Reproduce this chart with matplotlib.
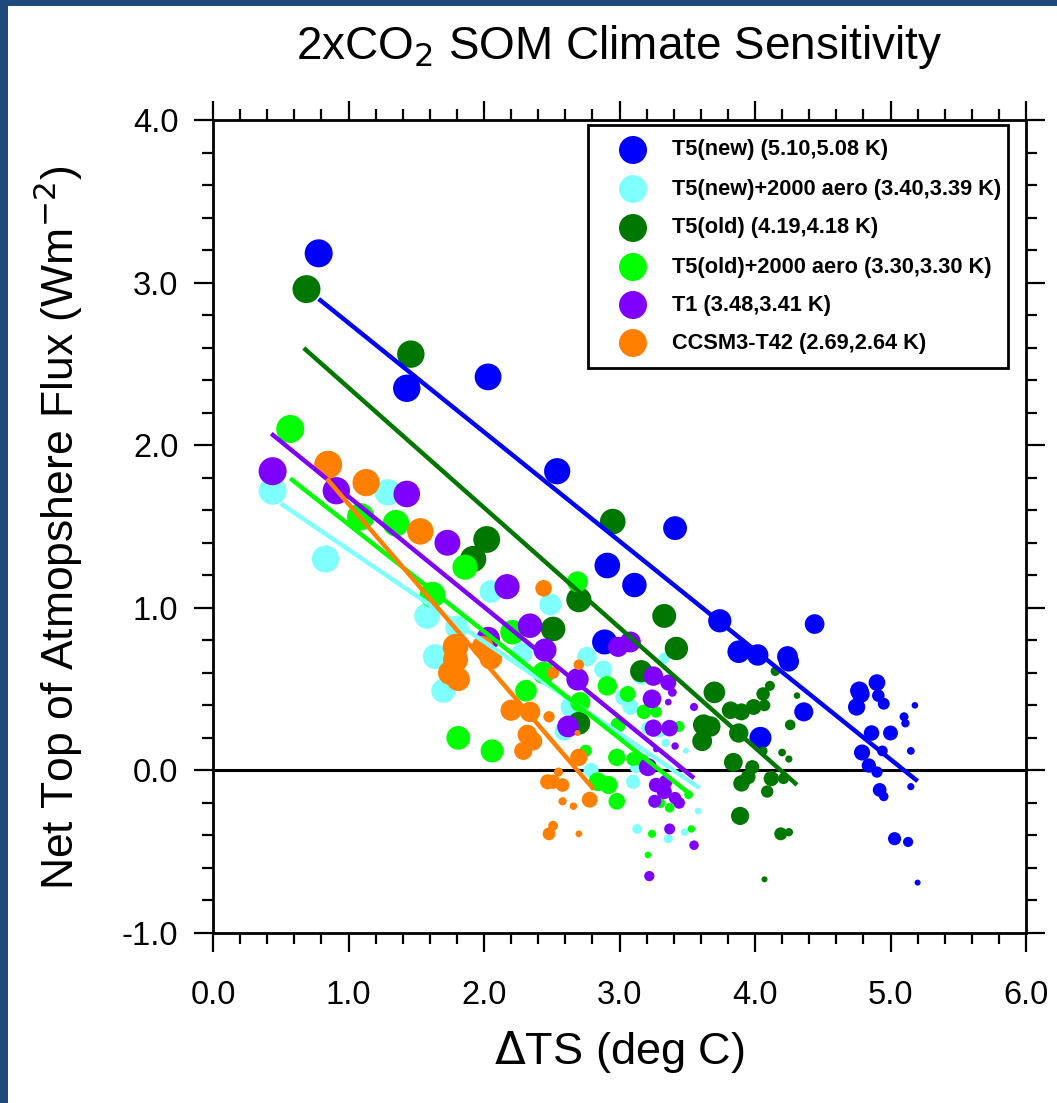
import numpy as np
import matplotlib
matplotlib.use("Agg")
import matplotlib.pyplot as plt
from matplotlib.patches import Rectangle
from matplotlib.ticker import MultipleLocator

plt.rcParams['font.family'] = ['Liberation Sans', 'DejaVu Sans']

# ---------------- data (ordered from first/largest marker to last/smallest) ----------------
series_names = ["T5(new) (5.10,5.08 K)",
                "T5(new)+2000 aero (3.40,3.39 K)",
                "T5(old) (4.19,4.18 K)",
                "T5(old)+2000 aero (3.30,3.30 K)",
                "T1 (3.48,3.41 K)",
                "CCSM3-T42 (2.69,2.64 K)"]

t5new_x = [0.78, 1.43, 2.03, 2.54, 2.91, 2.89, 3.11, 3.41, 3.74, 3.88, 4.04, 4.02, 4.24, 4.25,
           4.44, 4.36, 4.77, 4.78, 4.75, 4.90, 4.79, 4.86, 5.00, 4.84, 4.92, 5.03, 4.91, 4.95,
           4.90, 4.94, 5.13, 4.95, 5.10, 5.11, 5.15, 5.15, 5.18, 5.20]
t5new_y = [3.18, 2.35, 2.42, 1.84, 1.26, 0.79, 1.14, 1.49, 0.92, 0.73, 0.20, 0.71, 0.70, 0.67,
           0.90, 0.36, 0.49, 0.47, 0.39, 0.54, 0.11, 0.23, 0.23, 0.03, -0.12, -0.42, 0.46, 0.41,
           -0.01, 0.12, -0.44, -0.16, 0.33, 0.29, 0.12, -0.10, 0.40, -0.69]

t5newaer_x = [0.44, 0.83, 1.29, 1.58, 1.64, 1.70, 1.80, 2.05, 2.49, 2.28, 2.64, 2.76, 2.59, 2.88,
              3.16, 3.03, 3.08, 2.79, 3.10, 3.21, 3.29, 3.12, 3.33, 3.26, 3.13, 3.36, 3.34,
              3.48, 3.58, 3.49]
t5newaer_y = [1.72, 1.30, 1.71, 0.95, 0.70, 0.49, 0.88, 1.10, 1.02, 0.72, 0.39, 0.70, 0.24, 0.62,
              0.58, 0.45, 0.39, 0.00, -0.07, 0.26, 0.24, 0.02, 0.69, -0.19, -0.36, -0.42, 0.17,
              -0.38, -0.25, 0.12]

t5old_x = [0.69, 1.46, 2.02, 1.92, 2.95, 2.70, 2.51, 3.33, 3.42, 2.70, 3.16, 3.70, 3.62, 3.67,
           3.61, 3.88, 3.84, 3.89, 3.82, 3.90, 3.90, 3.99, 4.12, 3.95, 3.98, 4.06, 4.19, 4.09,
           4.07, 4.21, 4.26, 4.11, 4.15, 4.06, 4.25, 4.20, 4.25, 4.31, 4.07]
t5old_y = [2.96, 2.56, 1.42, 1.30, 1.53, 1.05, 0.87, 0.95, 0.75, 0.29, 0.61, 0.48, 0.28, 0.27,
           0.18, 0.23, 0.05, -0.28, 0.37, 0.36, -0.08, 0.39, -0.05, -0.04, 0.02, 0.47, -0.39, -0.13,
           0.40, -0.05, 0.28, 0.52, 0.61, 0.12, -0.38, 0.11, 0.07, 0.46, -0.67]

t5oldaer_x = [0.57, 1.09, 1.35, 1.62, 1.86, 2.21, 1.81, 2.06, 2.44, 2.31, 2.69, 2.71, 2.91, 2.84,
              2.92, 2.98, 2.98, 3.06, 2.99, 3.18, 3.10, 3.17, 2.75, 3.27, 3.44, 3.30, 3.37, 3.51,
              3.24, 3.53, 3.21, 3.36]
t5oldaer_y = [2.10, 1.56, 1.52, 1.08, 1.25, 0.85, 0.20, 0.12, 0.60, 0.49, 1.16, 0.42, 0.52, -0.07,
              -0.09, 0.08, -0.19, 0.47, 0.28, 0.36, 0.07, 0.06, 0.12, 0.36, 0.27, -0.20, -0.23, -0.15,
              -0.39, -0.36, -0.52, 0.57]

t1_x = [0.44, 0.91, 1.43, 1.73, 2.17, 2.34, 2.03, 2.45, 2.69, 2.62, 3.08, 2.99, 3.25, 3.24,
        3.21, 3.25, 3.37, 3.36, 3.33, 3.27, 3.34, 3.26, 3.41, 3.44, 3.37, 3.22, 3.55, 3.39,
        3.55, 3.41, 3.36, 3.27]
t1_y = [1.84, 1.72, 1.70, 1.40, 1.13, 0.89, 0.81, 0.74, 0.56, 0.27, 0.79, 0.76, 0.58, 0.44,
        0.02, 0.26, 0.26, 0.54, -0.13, -0.09, -0.07, -0.19, -0.17, -0.20, -0.36, -0.65, -0.46, 0.48,
        0.39, 0.15, 0.42, 0.13]

ccsm_x = [0.85, 1.13, 1.53, 1.79, 1.79, 1.75, 1.81, 2.05, 1.99, 2.20, 2.34, 2.32, 2.36, 2.29,
          2.70, 2.44, 2.78, 2.47, 2.51, 2.58, 2.48, 2.51, 2.48, 2.70, 2.51, 2.55, 2.58, 2.66,
          2.70, 2.69]
ccsm_y = [1.88, 1.77, 1.47, 0.76, 0.68, 0.60, 0.56, 0.69, 0.76, 0.37, 0.36, 0.22, 0.18, 0.12,
          0.08, 1.12, -0.18, -0.07, -0.07, -0.09, -0.39, 0.60, 0.33, 0.65, -0.34, -0.01, -0.19, -0.22,
          -0.39, 0.23]

# regression fits (slope, intercept) and fitted x ranges
fit_slope = [-0.671, -0.566, -0.738, -0.658, -0.679, -0.970]
fit_icept = [3.423, 1.924, 3.092, 2.171, 2.363, 2.609]
fit_xmin = [0.78, 0.50, 0.67, 0.57, 0.43, 0.84]
fit_xmax = [5.20, 3.59, 4.31, 3.52, 3.55, 2.81]

xticks = [0.0, 1.0, 2.0, 3.0, 4.0, 5.0, 6.0]
yticks = [-1.0, 0.0, 1.0, 2.0, 3.0, 4.0]

# ---------------- style ----------------
colors = ["#0000FF", "#80FFFF", "#007800", "#00FF00", "#8000FF", "#FF8000"]
xs = [t5new_x, t5newaer_x, t5old_x, t5oldaer_x, t1_x, ccsm_x]
ys = [t5new_y, t5newaer_y, t5old_y, t5oldaer_y, t1_y, ccsm_y]

W, H = 1057, 1103
fig = plt.figure(figsize=(W / 100, H / 100), dpi=100)
fig.patch.set_facecolor("#1F497D")
fig.patches.append(Rectangle((8 / W, 0), 1 - 8 / W, 1 - 6 / H, transform=fig.transFigure,
                             facecolor="white", edgecolor="none", zorder=-10))

L, R, T, B = 213, 1026, 120, 933
ax = fig.add_axes([L / W, 1 - B / H, (R - L) / W, (B - T) / H])
ax.set_xlim(0, 6)
ax.set_ylim(-1, 4)

def dsize(n, dmax=28.0, dmin=6.0):
    d = np.linspace(dmax, dmin, n)
    return (d * 72 / 100) ** 2

for x, y, c in zip(xs, ys, colors):
    ax.scatter(x, y, s=dsize(len(x)), c=c, edgecolors="none", zorder=3)

ax.axhline(0, color="black", lw=2.2, zorder=2)

for sl, ic, x0, x1, c in zip(fit_slope, fit_icept, fit_xmin, fit_xmax, colors):
    xr = np.array([x0, x1])
    ax.plot(xr, ic + sl * xr, color=c, lw=3.2, zorder=4, solid_capstyle="butt")

# ticks
ax.set_xticks(xticks)
ax.set_yticks(yticks)
ax.set_xticklabels([f"{v:.1f}" for v in xticks])
ax.set_yticklabels([f"{v:.1f}" for v in yticks])
ax.xaxis.set_minor_locator(MultipleLocator(0.2))
ax.yaxis.set_minor_locator(MultipleLocator(0.2))
ax.tick_params(which="both", direction="out", top=True, right=True, width=1.6, colors="black")
ax.tick_params(which="major", length=14, labelsize=23.5, pad=20)
ax.tick_params(which="minor", length=8)
ax.tick_params(axis="y", which="major", pad=11)
for sp in ax.spines.values():
    sp.set_linewidth(2.0)

fig.text((L + R) / 2 / W, 1 - 1052 / H, r"$\Delta$TS (deg C)", fontsize=32.5,
         ha="center", va="center")
fig.text(58 / W, 1 - 528 / H, r"Net Top of Atmopshere Flux (Wm$^{-2}$)", fontsize=32,
         ha="center", va="center", rotation=90)
fig.text((L + R) / 2 / W, 1 - 47 / H, r"2xCO$_2$ SOM Climate Sensitivity", fontsize=33,
         ha="center", va="center")

# legend (manual box)
lx0, lx1 = (588 - L) / (R - L), (1008 - L) / (R - L)
ly1, ly0 = (B - 125) / (B - T), (B - 368) / (B - T)
ax.add_patch(Rectangle((lx0, ly0), lx1 - lx0, ly1 - ly0, transform=ax.transAxes,
                       facecolor="white", edgecolor="black", lw=2.0, zorder=6))
row_px = [150, 189, 228, 267, 305, 343]
for name, c, rp in zip(series_names, colors, row_px):
    yy = (B - rp) / (B - T)
    ax.scatter([(633 - L) / (R - L)], [yy], s=(28 * 0.72) ** 2, c=c, edgecolors="none",
               transform=ax.transAxes, zorder=7, clip_on=False)
    ax.text((672 - L) / (R - L), yy, name, transform=ax.transAxes, fontsize=15.7,
            fontweight="bold", va="center", ha="left", zorder=7)

fig.savefig("out.png", dpi=100, facecolor=fig.get_facecolor())
